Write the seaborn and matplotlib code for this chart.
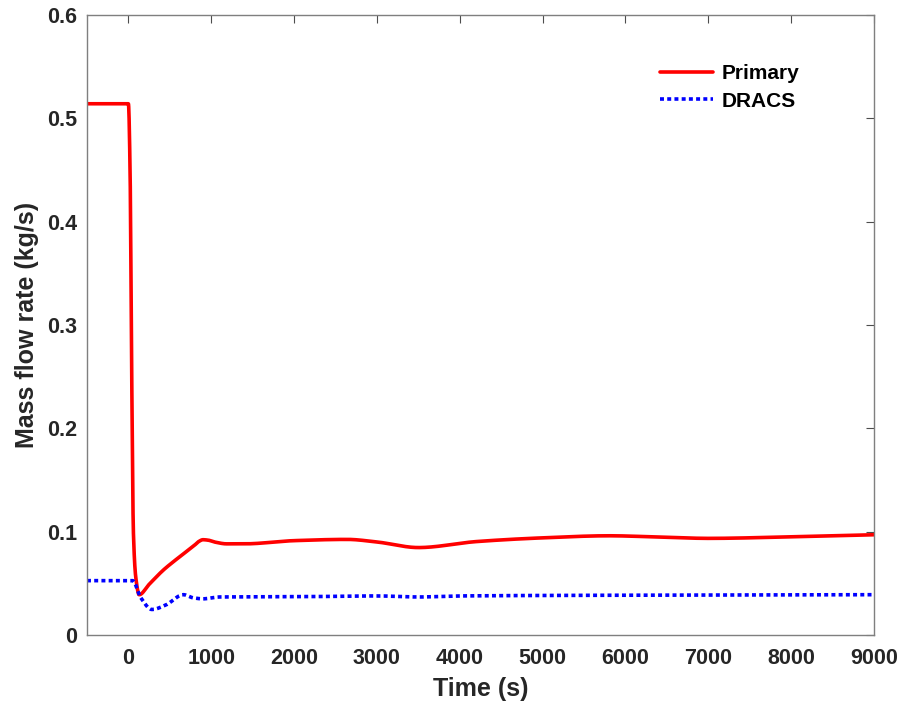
import numpy as np
import pandas as pd
import matplotlib
matplotlib.use("Agg")
import matplotlib.pyplot as plt
import seaborn as sns

# Primary loop mass flow rate (kg/s) over time (s)
primary_t = [-500, 0, 20, 40, 60, 90, 130, 250, 424, 560, 704, 800, 850, 900, 960, 1050,
             1185, 1400, 2000, 2640, 3000, 3500, 4200, 5000, 5800, 6500, 7000, 8000, 9000]
primary_m = [0.514, 0.514, 0.45, 0.25, 0.10, 0.055, 0.039, 0.049, 0.063, 0.072, 0.081, 0.087, 0.0905, 0.0922, 0.0918, 0.0898,
             0.0882, 0.0882, 0.0913, 0.0925, 0.090, 0.0846, 0.0904, 0.094, 0.096, 0.0945, 0.0935, 0.095, 0.097]

# DRACS loop mass flow rate (kg/s) over time (s)
dracs_t = [-500, 0, 50, 150, 284, 450, 664, 780, 900, 1104, 2000, 3000, 3500, 4000, 6000, 9000]
dracs_m = [0.0526, 0.0526, 0.0526, 0.036, 0.0247, 0.029, 0.039, 0.036, 0.035, 0.0368, 0.037, 0.0378, 0.0368, 0.0378, 0.0385, 0.039]

x_ticks = [0, 1000, 2000, 3000, 4000, 5000, 6000, 7000, 8000, 9000]
y_ticks = [0, 0.1, 0.2, 0.3, 0.4, 0.5, 0.6]
y_tick_labels = ["0", "0.1", "0.2", "0.3", "0.4", "0.5", "0.6"]


def smooth(t, m, n=4000):
    # shape-preserving piecewise cubic Hermite resampling (PCHIP)
    t = np.asarray(t, float)
    m = np.asarray(m, float)
    h = np.diff(t)
    d = np.diff(m) / h
    k = np.zeros_like(m)
    for i in range(1, len(m) - 1):
        if d[i - 1] * d[i] > 0:
            w1 = 2 * h[i] + h[i - 1]
            w2 = h[i] + 2 * h[i - 1]
            k[i] = (w1 + w2) / (w1 / d[i - 1] + w2 / d[i])
    k[0] = d[0]
    k[-1] = d[-1]
    tt = np.linspace(t[0], t[-1], n)
    idx = np.clip(np.searchsorted(t, tt) - 1, 0, len(t) - 2)
    s = (tt - t[idx]) / h[idx]
    h00 = 2 * s**3 - 3 * s**2 + 1
    h10 = s**3 - 2 * s**2 + s
    h01 = -2 * s**3 + 3 * s**2
    h11 = s**3 - s**2
    mm = h00 * m[idx] + h10 * h[idx] * k[idx] + h01 * m[idx + 1] + h11 * h[idx] * k[idx + 1]
    return tt, mm


pt, pm = smooth(primary_t, primary_m)
dt, dm = smooth(dracs_t, dracs_m)
df = pd.concat([
    pd.DataFrame({"Time": pt, "Flow": pm, "Loop": "Primary"}),
    pd.DataFrame({"Time": dt, "Flow": dm, "Loop": "DRACS"}),
])

sns.set_style("white")
plt.rcParams["font.family"] = ["Liberation Sans", "DejaVu Sans"]
plt.rcParams["font.weight"] = "bold"

fig = plt.figure(figsize=(9.08, 7.08), dpi=100)
ax = fig.add_axes([0.0958, 0.1031, 0.8668, 0.8759])

sns.lineplot(data=df, x="Time", y="Flow", hue="Loop", style="Loop",
             palette={"Primary": "#ff0000", "DRACS": "#0000ff"},
             dashes={"Primary": "", "DRACS": (1.1, 0.9)},
             linewidth=2.6, ax=ax, sort=False, estimator=None)

for line in ax.get_lines():
    line.set_dash_capstyle("butt")

ax.set_xlim(-500, 9000)
ax.set_ylim(0, 0.6)
ax.set_xticks(x_ticks)
ax.set_xticklabels([str(v) for v in x_ticks])
ax.set_yticks(y_ticks)
ax.set_yticklabels(y_tick_labels)
ax.set_xlabel("Time (s)", fontsize=18, fontweight="bold", color="#262626", labelpad=6)
ax.set_ylabel("Mass flow rate (kg/s)", fontsize=18, fontweight="bold", color="#262626", labelpad=6)

for sp in ax.spines.values():
    sp.set_visible(True)
    sp.set_color("#7f7f7f")
    sp.set_linewidth(1.0)
ax.tick_params(direction="in", length=6, width=0.8, color="#4d4d4d",
               top=True, right=True, labelsize=15.5, labelcolor="#262626")
ax.tick_params(axis="x", pad=9)
ax.tick_params(axis="y", pad=7)
for lbl in ax.get_xticklabels() + ax.get_yticklabels():
    lbl.set_fontweight("bold")

handles, labels = ax.get_legend_handles_labels()
leg = ax.legend(handles, labels, loc="upper left", bbox_to_anchor=(0.7145, 0.937),
                frameon=False, fontsize=15, handlelength=2.55, handletextpad=0.43,
                labelspacing=0.4, borderpad=0.0)
for t in leg.get_texts():
    t.set_fontweight("bold")
    t.set_color("black")
for lh in leg.get_lines():
    lh.set_linewidth(2.6)

fig.savefig("out.png", dpi=100)
